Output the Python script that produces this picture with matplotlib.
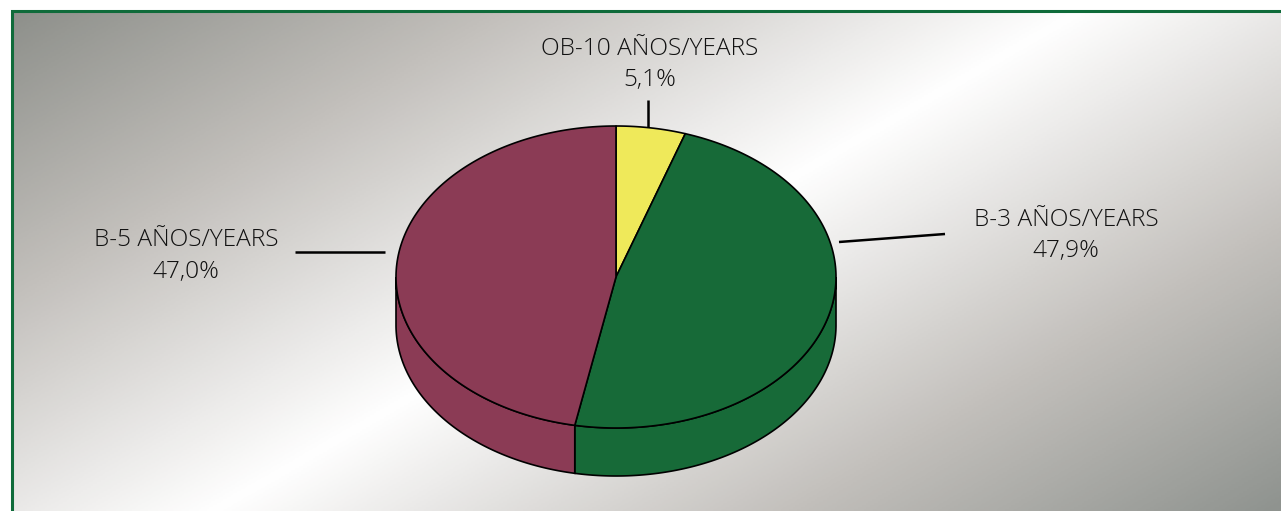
import numpy as np
import matplotlib
matplotlib.use('Agg')
import matplotlib.pyplot as plt
from matplotlib.colors import LinearSegmentedColormap

labels = ['OB-10 AÑOS/YEARS', 'B-3 AÑOS/YEARS', 'B-5 AÑOS/YEARS']
shares = [5.1, 47.9, 47.0]
share_text = ['5,1%', '47,9%', '47,0%']
colors = ['#efe95a', '#176a38', '#8b3b55']

W, H = 1281, 511
cx, cy, rx, ry, depth = 616, 277, 220, 151, 48

plt.rcParams['font.family'] = ['Open Sans', 'DejaVu Sans']
fig = plt.figure(figsize=(W / 100, H / 100), dpi=100, facecolor='white')
ax = fig.add_axes([0, 0, 1, 1])
ax.set_xlim(0, W)
ax.set_ylim(H, 0)
ax.axis('off')

# diagonal background, grey to white and back
cmap = LinearSegmentedColormap.from_list('bg', [(0, '#8e908b'), (0.23, '#c3c0bc'), (0.5, '#ffffff'),
                                                (0.77, '#c3c0bc'), (1, '#8f938f')])
xx, yy = np.meshgrid(np.linspace(11, W, 640), np.linspace(11, H, 255))
ax.imshow((0.578 * xx + yy - 19) / 1232, cmap=cmap, vmin=0, vmax=1, extent=(11, W, H, 11), aspect='auto', zorder=0)
ax.set_xlim(0, W)
ax.set_ylim(H, 0)

# green frame, left and top only
ax.plot([11.5, 11.5, W], [H, 11.5, 11.5], color='#0f6b3a', lw=2.2, solid_joinstyle='miter', zorder=1)


def arc(a0, a1, dy=0):
    # angles in degrees, clockwise from the top of the ellipse
    t = np.radians(np.linspace(a0, a1, 200))
    return cx + rx * np.sin(t), cy + dy - ry * np.cos(t)


edges = np.cumsum([0] + shares) * 3.6

# side wall, only the front half shows
for i, c in enumerate(colors):
    a0, a1 = max(edges[i], 90), min(edges[i + 1], 270)
    if a1 <= a0:
        continue
    x, y = arc(a0, a1)
    xb, yb = arc(a1, a0, depth)
    ax.fill(np.r_[x, xb], np.r_[y, yb], facecolor=c, edgecolor='black', lw=1.2, zorder=2)

# top face
for i, c in enumerate(colors):
    x, y = arc(edges[i], edges[i + 1])
    ax.fill(np.r_[cx, x], np.r_[cy, y], facecolor=c, edgecolor='black', lw=1.2, joinstyle='round', zorder=3)

# leader lines
ax.plot([648, 648], [100, 127], color='black', lw=1.8, solid_capstyle='butt', zorder=4)
ax.plot([839, 945], [242, 234], color='black', lw=1.8, solid_capstyle='butt', zorder=4)
ax.plot([295, 385], [252, 252], color='black', lw=1.8, solid_capstyle='butt', zorder=4)

label_pos = [(650, 49, 80), (1066, 220, 251), (186, 240, 272)]
for name, val, (x, y1, y2) in zip(labels, share_text, label_pos):
    ax.text(x, y1, name, ha='center', va='center', fontsize=17.6, weight='light', color='#111111', zorder=5)
    ax.text(x, y2, val, ha='center', va='center', fontsize=17.6, weight='light', color='#111111', zorder=5)

fig.savefig('out.png', dpi=100)
